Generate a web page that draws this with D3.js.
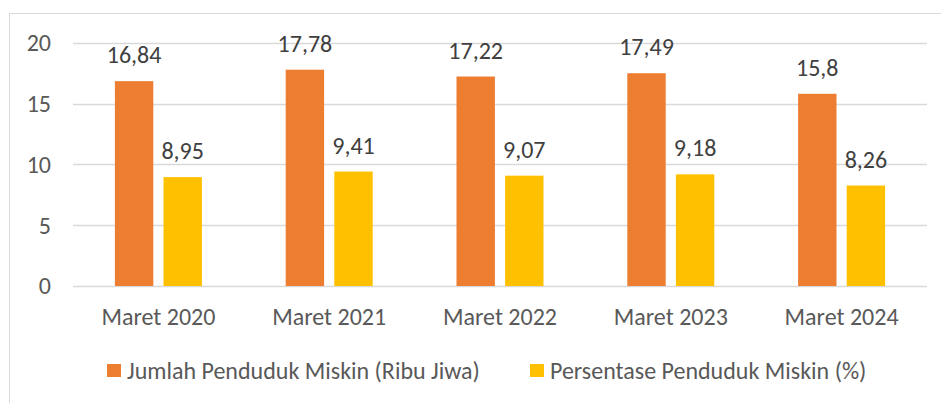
<!DOCTYPE html>
<html>
<head>
<meta charset="utf-8">
<script src="https://cdn.jsdelivr.net/npm/d3@7"></script>
<style>
  body { margin: 0; background: #fff; }
  text { font-family: Carlito, Calibri, Lato, sans-serif; fill: #595959; }
</style>
</head>
<body>
<script>
var categories = ["Maret 2020", "Maret 2021", "Maret 2022", "Maret 2023", "Maret 2024"];
var seriesNames = ["Jumlah Penduduk Miskin (Ribu Jiwa)", "Persentase Penduduk Miskin (%)"];
var jumlah = [16.84, 17.78, 17.22, 17.49, 15.8];
var persen = [8.95, 9.41, 9.07, 9.18, 8.26];
var yTicks = [0, 5, 10, 15, 20];
var colors = ["#ED7D31", "#FFC000"];

var W = 941, H = 403;
var fs = "24px";

var svg = d3.select("body").append("svg")
    .attr("width", W)
    .attr("height", H);

// chart frame (cut off on right and bottom like the screenshot)
svg.append("rect")
    .attr("x", 9.5).attr("y", 13.5)
    .attr("width", W + 20).attr("height", H + 20)
    .attr("fill", "none")
    .attr("stroke", "#D9D9D9");

var y = d3.scaleLinear()
    .domain([0, 20])
    .range([286, 42.7]);

var x0 = d3.scaleBand()
    .domain(categories)
    .range([73, 927])
    .padding(0);

var groupW = 87;
var x1 = d3.scaleBand()
    .domain([0, 1])
    .range([(x0.bandwidth() - groupW) / 2, (x0.bandwidth() + groupW) / 2])
    .paddingInner(0.21)
    .paddingOuter(0);

// gridlines
svg.append("g").attr("class", "grid")
    .selectAll("line")
    .data(yTicks)
    .enter().append("line")
    .attr("x1", 73).attr("x2", 927)
    .attr("y1", d => Math.round(y(d)) + 0.5)
    .attr("y2", d => Math.round(y(d)) + 0.5)
    .attr("stroke", "#D9D9D9")
    .attr("stroke-width", 1.5);

// y tick labels
svg.append("g").attr("class", "ylabels")
    .selectAll("text")
    .data(yTicks)
    .enter().append("text")
    .attr("x", 51)
    .attr("y", d => y(d))
    .attr("dy", "0.35em")
    .attr("text-anchor", "end")
    .style("font-size", fs)
    .text(d => d);

var rows = categories.map((c, i) => ({ cat: c, vals: [jumlah[i], persen[i]] }));

var groups = svg.append("g").attr("class", "bars")
    .selectAll("g")
    .data(rows)
    .enter().append("g")
    .attr("transform", d => "translate(" + x0(d.cat) + ",0)");

groups.selectAll("rect")
    .data(d => d.vals.map((v, k) => ({ k: k, v: v })))
    .enter().append("rect")
    .attr("x", d => x1(d.k))
    .attr("y", d => y(d.v))
    .attr("width", x1.bandwidth())
    .attr("height", d => y(0) - y(d.v))
    .attr("fill", d => colors[d.k]);

// data labels
groups.selectAll("text")
    .data(d => d.vals.map((v, k) => ({ k: k, v: v })))
    .enter().append("text")
    .attr("x", d => x1(d.k) + x1.bandwidth() / 2)
    .attr("y", d => y(d.v) - 18)
    .attr("text-anchor", "middle")
    .style("font-size", fs)
    .style("fill", "#404040")
    .text(d => String(d.v).replace(".", ","));

// x axis labels
svg.append("g").attr("class", "xlabels")
    .selectAll("text")
    .data(categories)
    .enter().append("text")
    .attr("x", d => x0(d) + x0.bandwidth() / 2)
    .attr("y", 325)
    .attr("text-anchor", "middle")
    .style("font-size", fs)
    .text(d => d);

// legend
var legendX = [107, 530];
var legend = svg.append("g").attr("class", "legend")
    .selectAll("g")
    .data(seriesNames)
    .enter().append("g")
    .attr("transform", (d, i) => "translate(" + legendX[i] + ",364)");

legend.append("rect")
    .attr("width", 14).attr("height", 13)
    .attr("fill", (d, i) => colors[i]);

legend.append("text")
    .attr("x", 20)
    .attr("y", 15)
    .style("font-size", fs)
    .text(d => d);
</script>
</body>
</html>
